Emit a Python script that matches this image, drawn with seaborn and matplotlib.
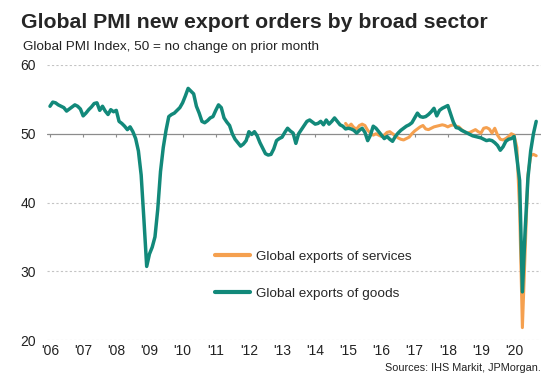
import numpy as np
import pandas as pd
import matplotlib
matplotlib.use('Agg')
import matplotlib.pyplot as plt
import seaborn as sns

# monthly readings, goods from Jan 2006, services from Dec 2014, both to Sep 2020
goods = [
    54.0, 54.6, 54.5, 54.2, 54.0, 53.8, 53.3, 53.6, 53.9, 54.2, 54.0, 53.6,  # 2006
    52.6, 53.0, 53.5, 53.9, 54.4, 54.5, 53.4, 54.0, 53.3, 52.8, 53.5, 53.2,  # 2007
    53.4, 51.8, 51.5, 51.1, 50.6, 51.0, 50.3, 49.3, 47.5, 44.0, 37.5, 30.7,  # 2008
    32.5, 33.5, 35.0, 39.0, 44.5, 48.0, 50.5, 52.5, 52.8, 53.0, 53.4, 53.8,  # 2009
    54.5, 55.5, 56.6, 56.2, 55.8, 54.0, 53.0, 51.8, 51.6, 51.9, 52.3, 52.5,  # 2010
    53.4, 54.2, 53.8, 52.3, 51.7, 51.2, 50.0, 49.2, 48.7, 48.2, 48.5, 49.0,  # 2011
    50.3, 49.9, 50.3, 49.7, 48.7, 47.9, 47.1, 46.9, 47.0, 47.8, 49.0, 49.3,  # 2012
    49.5, 50.2, 50.8, 50.4, 50.1, 48.6, 50.0, 50.6, 51.2, 51.8, 52.0, 51.7,  # 2013
    51.4, 51.5, 51.8, 51.3, 52.0, 51.4, 51.8, 52.3, 51.8, 51.3, 51.1, 50.7,  # 2014
    50.8, 50.7, 50.5, 50.1, 50.5, 50.8, 50.2, 49.0, 49.8, 51.1, 50.8, 50.3,  # 2015
    49.8, 49.3, 49.6, 49.2, 48.9, 49.6, 50.1, 50.5, 50.8, 51.1, 51.3, 51.6,  # 2016
    52.3, 53.0, 52.5, 52.4, 52.5, 52.8, 53.2, 53.7, 52.6, 53.4, 53.7, 53.9,  # 2017
    54.1, 52.9, 51.7, 50.9, 50.8, 50.5, 50.3, 50.1, 49.9, 49.7, 49.6, 49.5,  # 2018
    49.4, 49.2, 49.0, 49.1, 49.0, 48.7, 48.3, 47.6, 48.1, 48.9, 49.2, 49.3,  # 2019
    49.6, 46.5, 43.2, 27.0, 36.0, 43.5, 47.5, 50.0, 51.8,                    # 2020
]

services = [
    51.5,                                                                    # Dec 2014
    51.0, 51.4, 50.9, 50.7, 51.2, 51.4, 51.2, 50.5, 50.1, 49.8, 50.0, 49.8,  # 2015
    49.6, 49.8, 50.2, 50.3, 50.0, 49.7, 49.4, 49.2, 49.1, 49.3, 49.5, 50.0,  # 2016
    50.4, 50.7, 51.0, 51.2, 50.7, 50.6, 50.8, 51.0, 51.1, 51.2, 51.3, 51.2,  # 2017
    51.0, 51.2, 51.3, 51.1, 51.0, 50.6, 50.3, 50.1, 50.2, 50.4, 50.6, 50.3,  # 2018
    50.1, 50.8, 50.9, 50.7, 50.1, 50.8, 49.8, 49.2, 49.1, 49.3, 49.6, 50.0,  # 2019
    49.8, 48.0, 39.0, 21.8, 33.0, 44.0, 46.8, 47.0, 46.8,                    # 2020
]

years = list(range(2006, 2021))
year_labels = ["'%02d" % (y % 100) for y in years]
y_ticks = [20, 30, 40, 50, 60]

GOODS_C = '#12897a'
SERV_C = '#f5a04f'

t_goods = 2006 + np.arange(len(goods)) / 12
t_serv = 2014 + 11 / 12 + np.arange(len(services)) / 12
df_g = pd.DataFrame({'t': t_goods, 'v': goods})
df_s = pd.DataFrame({'t': t_serv, 'v': services})

sns.set_style('white')
plt.rcParams['font.family'] = ['Liberation Sans', 'DejaVu Sans']

fig = plt.figure(figsize=(5.57, 3.91), dpi=100)
ax = fig.add_axes([47 / 557, 51 / 391, 494 / 557, 275 / 391])

for y in [20, 30, 40, 60]:
    ax.axhline(y, color='#c4c4c4', lw=0.8, ls=(0, (2, 2)), zorder=0)
ax.axhline(50, color='#8c8c8c', lw=0.9, zorder=1)
# small year ticks sitting on the 50 line
ax.vlines(years, 49.6, 50, color='#8c8c8c', lw=0.8, zorder=1)

sns.lineplot(data=df_s, x='t', y='v', ax=ax, color=SERV_C, lw=2.2,
             label='Global exports of services', zorder=3)
sns.lineplot(data=df_g, x='t', y='v', ax=ax, color=GOODS_C, lw=2.5,
             label='Global exports of goods', zorder=4)

ax.set_xlim(2006 - 3 / 33.15, 2006 + 491 / 33.15)
ax.set_ylim(20, 60)
ax.set_xticks(years)
ax.set_xticklabels(year_labels, fontsize=10, color='#222222')
ax.set_yticks(y_ticks)
ax.set_yticklabels([str(v) for v in y_ticks], fontsize=10, color='#222222')
ax.tick_params(axis='both', length=0)
ax.tick_params(axis='x', pad=3)
ax.tick_params(axis='y', pad=8)
ax.set_xlabel('')
ax.set_ylabel('')
for s in ax.spines.values():
    s.set_visible(False)

leg = ax.legend(loc='upper left', bbox_to_anchor=(163 / 494, (340 - 245) / 275),
                frameon=False, fontsize=9.7, handlelength=2.6, handletextpad=0.38,
                labelspacing=1.8, borderaxespad=0)
for h in leg.get_lines():
    h.set_linewidth(3)

fig.text(21 / 557, 1 - 22 / 391, 'Global PMI new export orders by broad sector',
         fontsize=15.3, fontweight='bold', va='center', ha='left')
fig.text(23 / 557, 1 - 47 / 391, 'Global PMI Index, 50 = no change on prior month',
         fontsize=9.7, va='center', ha='left', color='#222222')
fig.text(541 / 557, 1 - 368 / 391, 'Sources: IHS Markit, JPMorgan.',
         fontsize=7.8, va='center', ha='right', color='#222222')

fig.savefig('out.png', dpi=100)
